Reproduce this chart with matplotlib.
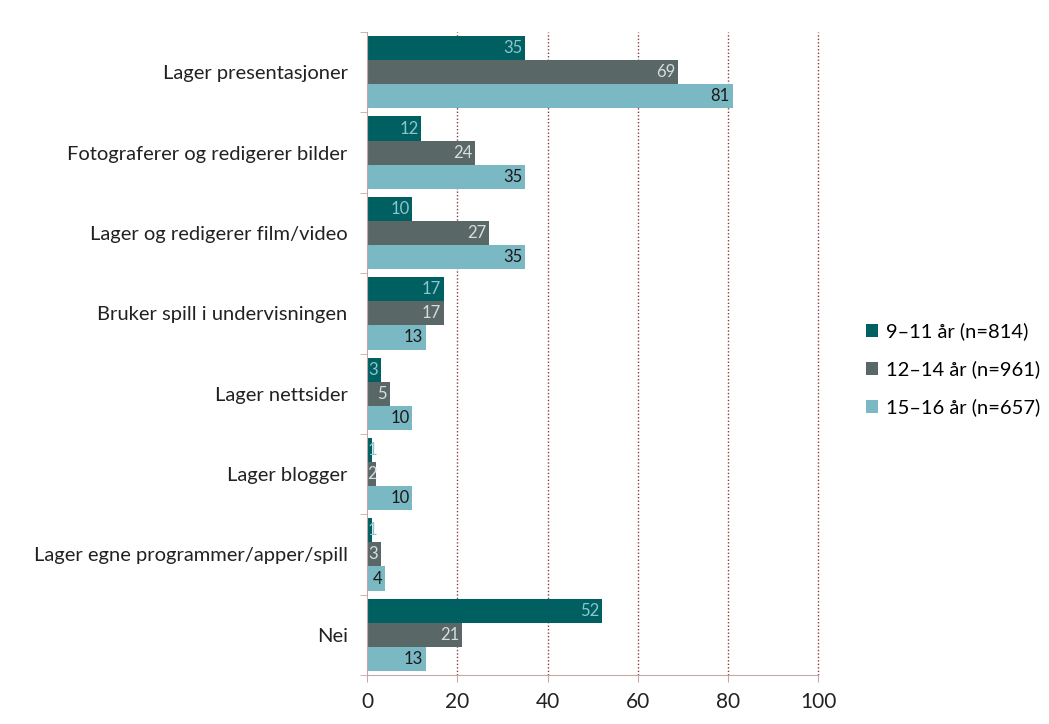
import numpy as np
import matplotlib.pyplot as plt

plt.rcParams['font.family'] = ['Lato', 'DejaVu Sans']

categories = [
    'Lager presentasjoner',
    'Fotograferer og redigerer bilder',
    'Lager og redigerer film/video',
    'Bruker spill i undervisningen',
    'Lager nettsider',
    'Lager blogger',
    'Lager egne programmer/apper/spill',
    'Nei',
]
series_names = ['9–11 år (n=814)', '12–14 år (n=961)', '15–16 år (n=657)']
age_9_11 = [35, 12, 10, 17, 3, 1, 1, 52]
age_12_14 = [69, 24, 27, 17, 5, 2, 3, 21]
age_15_16 = [81, 35, 35, 13, 10, 10, 4, 13]

colors = ['#005F60', '#596867', '#7AB8C3']
label_colors = ['#8CC6CE', '#D8DCDC', '#1A1A1A']

fig = plt.figure(figsize=(10.49, 7.24), dpi=100)
ax = fig.add_axes([0.35, 0.0677, 0.43, 0.888])

n = len(categories)
y = np.arange(n)
h = 0.3
for i, (vals, name) in enumerate(zip([age_9_11, age_12_14, age_15_16], series_names)):
    pos = y - h + i * h
    bars = ax.barh(pos, vals, height=h, color=colors[i], label=name, zorder=3)
    for b, v in zip(bars, vals):
        if v < 3:
            ax.text(0.1, b.get_y() + h / 2, str(v), ha='left', va='center',
                    fontsize=12, color=label_colors[i], zorder=4)
        else:
            ax.text(v - 0.6, b.get_y() + h / 2, str(v), ha='right', va='center',
                    fontsize=12, color=label_colors[i], zorder=4)

ax.set_xlim(0, 100)
ax.set_ylim(n - 0.5, -0.5)
ax.set_xticks([0, 20, 40, 60, 80, 100])
ax.set_yticks(y)
ax.set_yticklabels(categories, fontsize=14.5, color='#222222')
ax.set_yticks(np.arange(-0.5, n, 1), minor=True)
ax.tick_params(axis='y', which='major', length=0, pad=14)
ax.tick_params(axis='y', which='minor', length=5, color='#C9A6A6')
ax.tick_params(axis='x', length=5, color='#C9A6A6', labelsize=15, labelcolor='#222222', pad=7)

for gx in [20, 40, 60, 80, 100]:
    ax.axvline(gx, linestyle=(0, (1, 1.5)), color='#8B3A3A', linewidth=1,
               zorder=0, clip_on=False)
for s in ['top', 'right']:
    ax.spines[s].set_visible(False)
ax.spines['left'].set_color('#C9A6A6')
ax.spines['bottom'].set_color('#C9A6A6')
ax.spines['left'].set_zorder(5)

ax.legend(loc='center left', bbox_to_anchor=(1.065, 0.475), frameon=False,
          fontsize=14.5, handlelength=0.6, handleheight=0.6, handletextpad=0.4,
          labelspacing=1.0)

fig.savefig('out.png', dpi=100)
